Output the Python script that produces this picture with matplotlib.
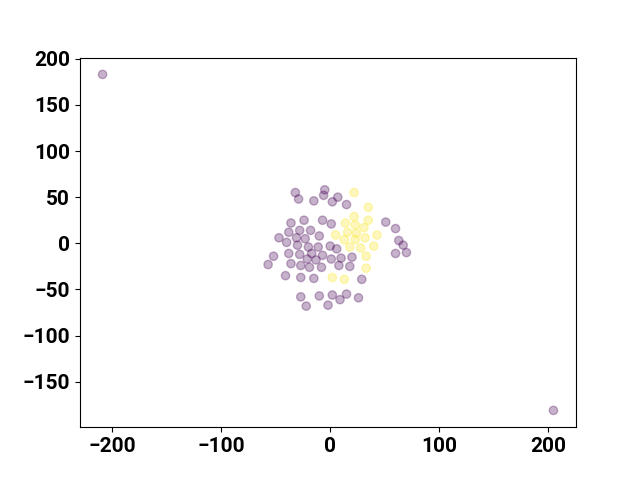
import numpy as np
import matplotlib
matplotlib.use("Agg")
from matplotlib import pyplot as plt
from matplotlib.ticker import MultipleLocator

plt.rcParams['font.family'] = ['Roboto', 'DejaVu Sans']
plt.rcParams['font.weight'] = 'bold'
plt.rcParams['font.size'] = 15

# 类别 0 (紫色)
x0 = [-209, 205,
      -32, -29, -5, -6, -15, 2, 7, 15, -36, -24, -7, 1, -38, -28, -18,
      -47, -31, -23, -10, -40, -30, -20, -11, 0, 6, -38, -28, -17, -7,
      -52, -57, -36, -27, -21, -13, -19, -8, 1, 10, 20, 8, 18,
      -41, -27, -15, 29, 51, 60, 63, 67, 60, 70,
      -27, -22, -10, 2, -2, 9, 15, 26]
y0 = [183, -181,
      55, 48, 58, 52, 46, 45, 50, 42, 22, 25, 25, 21, 12, 14, 14,
      6, 6, 5, 8, 1, -2, -4, -4, -3, -6, -11, -12, -11, -13,
      -14, -23, -22, -24, -17, -18, -26, -26, -17, -16, -15, -24, -25,
      -35, -37, -38, -39, 23, 16, 3, -2, -11, -10,
      -58, -68, -57, -56, -67, -61, -55, -59]

# 类别 1 (黄色)
x1 = [22, 35, 22, 35, 14, 23, 31, 16, 24, 5, 43, 13, 23, 32, 18, 28, 40, 33, 33, 2, 13]
y1 = [55, 39, 29, 25, 22, 20, 17, 12, 11, 9, 9, 4, 4, 6, -4, -5, -3, -14, -27, -37, -39]

x = np.array(x0 + x1)
y = np.array(y0 + y1)
labels = np.array([0] * len(x0) + [1] * len(x1))

fig = plt.figure(figsize=(6.4, 4.8), dpi=100)
plt.scatter(x, y, c=labels, cmap='viridis', alpha=0.3)
plt.gca().yaxis.set_major_locator(MultipleLocator(50))

plt.savefig('out.png', dpi=100)
